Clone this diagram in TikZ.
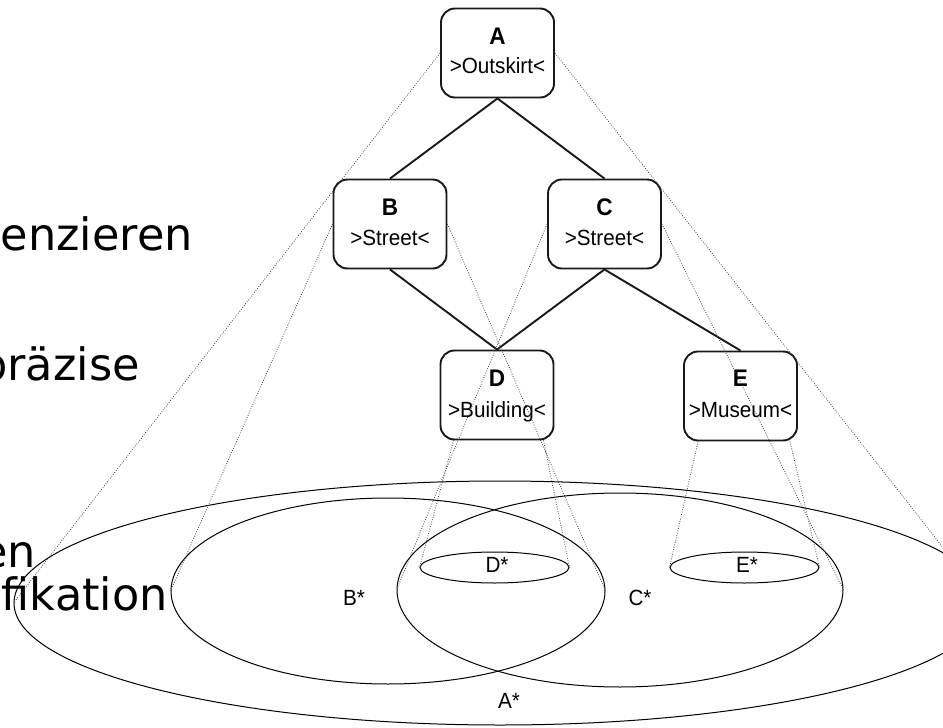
\documentclass[tikz,border=0pt]{standalone}
\usepackage{fontspec}
\setmainfont{Liberation Sans}
\newfontfamily\slidefont{DejaVu Sans}
\newfontfamily\tagfont[FakeStretch=0.94]{Liberation Sans}
\usetikzlibrary{shapes.geometric}

\begin{document}
\begin{tikzpicture}[x=1pt,y=-1pt,
  conceptbox/.style={draw=black!90, line width=1.9pt, rounded corners=14pt,
    minimum width=113pt, minimum height=89pt, inner sep=0pt},
  idtext/.style={font=\tagfont\bfseries\fontsize{24}{28}\selectfont, anchor=base, inner sep=0pt},
  nametext/.style={font=\tagfont\fontsize{22}{26}\selectfont, anchor=base, inner sep=0pt},
  region/.style={draw, ellipse, line width=1pt, inner sep=0pt},
  regiontext/.style={font=\tagfont\fontsize{22}{26}\selectfont, anchor=base, inner sep=0pt},
  slidetext/.style={font=\slidefont\fontsize{44.6}{50}\selectfont, anchor=base east, inner sep=0pt},
  tree/.style={line width=1.9pt, draw=black!90},
  proj/.style={draw=black!75, line width=0.8pt, dash pattern=on 0.8pt off 1.6pt}
]
\useasboundingbox (0,0) rectangle (943,728);
\clip (0,0) rectangle (943,728);

% slide text on the left
\node[slidetext] (t1) at (193,250) {enzieren};
\node[slidetext] (t2) at (140,380) {präzise};
\node[slidetext] (t3) at (36,567) {en};
\node[slidetext] (t4) at (168,610) {fikation};

% extension regions
\node[region, minimum width=972pt, minimum height=244pt] (Astar) at (500,603) {};
\node[region, minimum width=434pt, minimum height=186pt] (Bstar) at (388,591) {};
\node[region, minimum width=446pt, minimum height=194pt] (Cstar) at (620,590) {};
\node[region, minimum width=149pt, minimum height=31pt] (Dstar) at (494.5,567.5) {};
\node[region, minimum width=149pt, minimum height=31pt] (Estar) at (744.5,567.5) {};

\node[regiontext] (Atag) at (509,708) {A*};
\node[regiontext] (Btag) at (354,605) {B*};
\node[regiontext] (Ctag) at (640,605) {C*};
\node[regiontext] (Dtag) at (497,572) {D*};
\node[regiontext] (Etag) at (747,572) {E*};

% concept boxes
\node[conceptbox] (A) at (497.5,53) {};
\node[conceptbox] (B) at (390,224) {};
\node[conceptbox] (C) at (604.5,224) {};
\node[conceptbox] (D) at (497,395) {};
\node[conceptbox] (E) at (740.5,396) {};

\node[idtext] (Aid) at ([yshift=9pt]A.center) {A};
\node[nametext] (Aname) at ([yshift=-20pt]A.center) {>Outskirt<};
\node[idtext] (Bid) at ([yshift=9pt]B.center) {B};
\node[nametext] (Bname) at ([yshift=-21pt]B.center) {>Street<};
\node[idtext] (Cid) at ([yshift=9pt]C.center) {C};
\node[nametext] (Cname) at ([yshift=-21pt]C.center) {>Street<};
\node[idtext] (Did) at ([yshift=9pt]D.center) {D};
\node[nametext] (Dname) at ([yshift=-22pt]D.center) {>Building<};
\node[idtext] (Eid) at ([yshift=10pt]E.center) {E};
\node[nametext] (Ename) at ([yshift=-21pt]E.center) {>Museum<};

% hierarchy
\draw[tree] (A.south) -- (B.north);
\draw[tree] (A.south) -- (C.north);
\draw[tree] (B.south) -- (D.north);
\draw[tree] (C.south) -- (D.north);
\draw[tree] (C.south) -- (E.north);

% projections of concepts onto their extensions
\draw[proj] (A.west) -- (Astar.west);
\draw[proj] (A.east) -- (Astar.east);
\draw[proj] (B.west) -- (Bstar.west);
\draw[proj] (B.east) -- (Bstar.east);
\draw[proj] (C.west) -- (Cstar.west);
\draw[proj] (C.east) -- (Cstar.east);
\draw[proj] ([xshift=14pt]D.south west) -- (Dstar.west);
\draw[proj] ([xshift=-11pt]D.south east) -- (Dstar.east);
\draw[proj] ([xshift=15pt]E.south west) -- (Estar.west);
\draw[proj] ([xshift=-8pt]E.south east) -- (Estar.east);
\end{tikzpicture}
\end{document}
